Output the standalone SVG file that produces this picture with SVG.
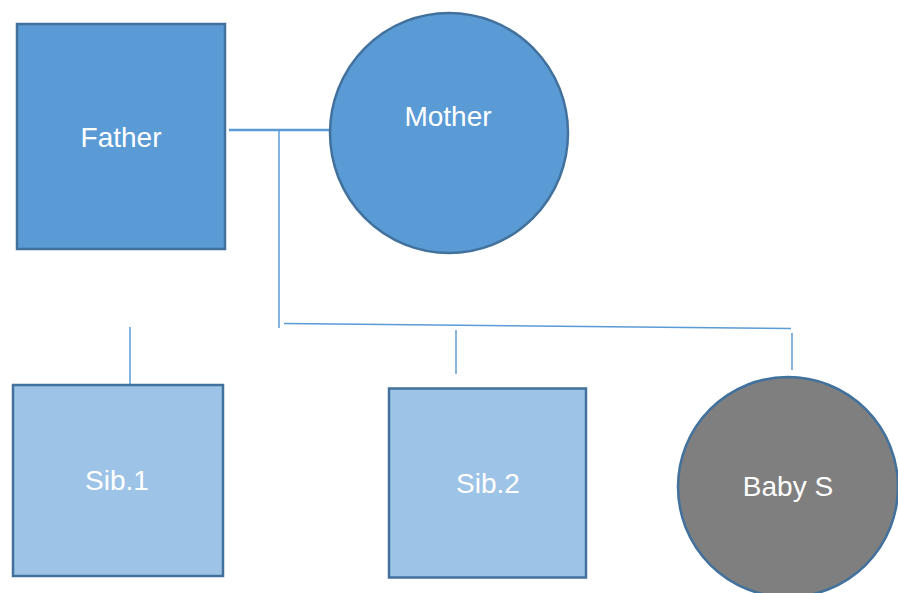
<svg xmlns="http://www.w3.org/2000/svg" width="898" height="593" viewBox="0 0 898 593">
<style>
.lbl{font-family:"Liberation Sans",Arial,sans-serif;font-size:28px;fill:#ffffff;text-anchor:middle}
.dark{fill:#5B9BD5;stroke:#41719C;stroke-width:2.5}
.light{fill:#9DC3E6;stroke:#41719C;stroke-width:2.5}
.grey{fill:#7F7F7F;stroke:#41719C;stroke-width:2.5}
.ln{stroke:#5B9BD5;stroke-width:1.5;fill:none}
</style>
<rect width="898" height="593" fill="#ffffff"/>
<g id="connectors">
<line class="ln" x1="229" y1="130" x2="331" y2="130" style="stroke-width:2.5"/>
<line class="ln" x1="279" y1="131" x2="279" y2="328"/>
<line class="ln" x1="284" y1="323.5" x2="791" y2="328.5"/>
<line class="ln" x1="456" y1="330" x2="456" y2="374"/>
<line class="ln" x1="792" y1="333" x2="792" y2="370"/>
<line class="ln" x1="130" y1="327" x2="130" y2="384"/>
</g>
<g id="father">
<rect class="dark" x="17" y="24" width="208" height="225"/>
<text class="lbl" x="121" y="147">Father</text>
</g>
<g id="mother">
<ellipse class="dark" cx="449" cy="133" rx="119" ry="120"/>
<text class="lbl" x="448" y="126">Mother</text>
</g>
<g id="sib1">
<rect class="light" x="13" y="385" width="210" height="191"/>
<text class="lbl" x="117" y="490">Sib.1</text>
</g>
<g id="sib2">
<rect class="light" x="389" y="388.5" width="197" height="189"/>
<text class="lbl" x="488" y="493">Sib.2</text>
</g>
<g id="babys">
<circle class="grey" cx="788" cy="487" r="110"/>
<text class="lbl" x="788" y="496">Baby S</text>
</g>
</svg>
